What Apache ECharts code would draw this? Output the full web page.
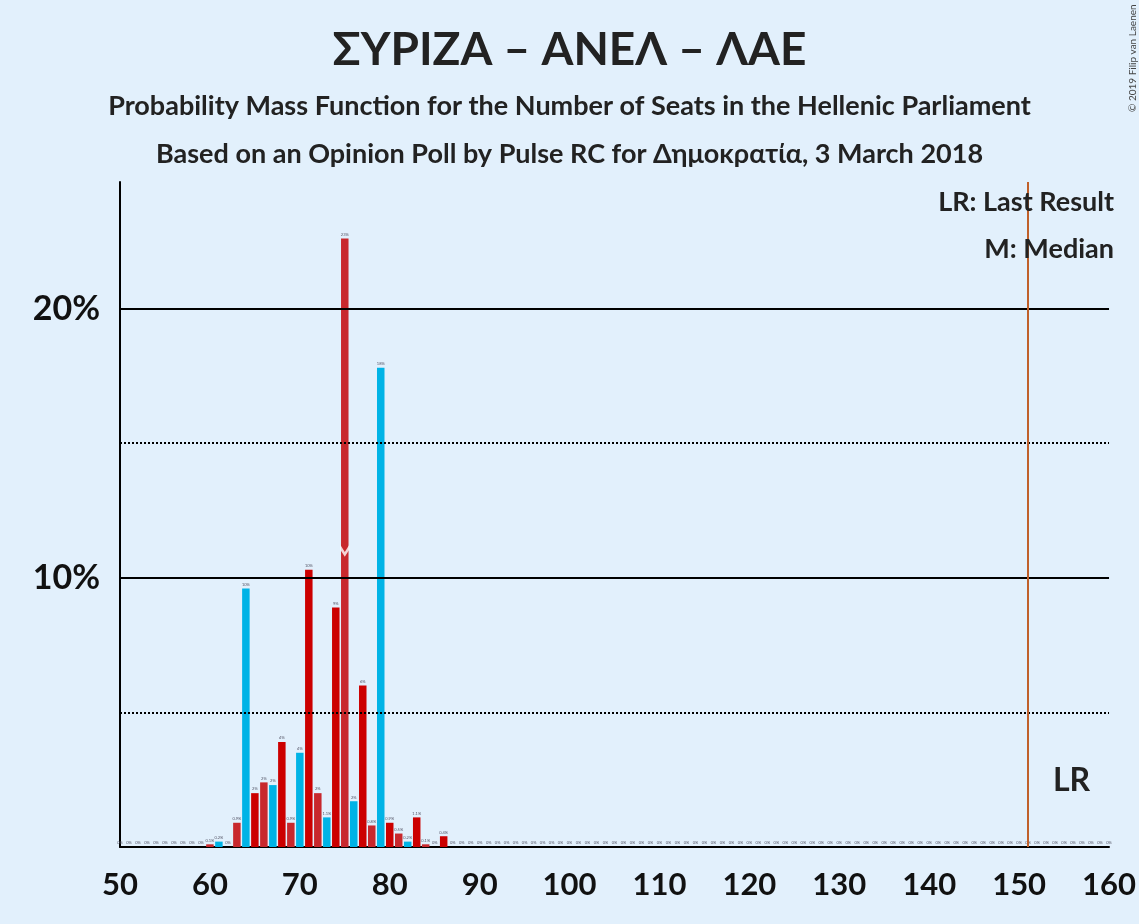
<!DOCTYPE html>
<html><head><meta charset="utf-8">
<script src="https://cdn.jsdelivr.net/npm/echarts@6/dist/echarts.min.js"></script>
<style>body{margin:0;background:#e2f0fc}#c{width:1139px;height:924px}</style>
</head><body><div id="c"></div>
<script>
// seats 50..160
const seats = [];
for (let s = 50; s <= 160; s++) seats.push(s);
// probability (%) for seats 60..86, all others 0
const probFrom = 60;
const probs = [0.1, 0.2, 0, 0.9, 9.6, 2.0, 2.4, 2.3, 3.9, 0.9, 3.5, 10.3, 2.0, 1.1, 8.9, 22.6, 1.7, 6.0, 0.8, 17.8, 0.9, 0.5, 0.2, 1.1, 0.1, 0, 0.4];
const labels = ['0.1%', '0.2%', '0%', '0.9%', '10%', '2%', '2%', '2%', '4%', '0.9%', '4%', '10%', '2%', '1.1%', '9%', '23%', '2%', '6%', '0.8%', '18%', '0.9%', '0.5%', '0.2%', '1.1%', '0.1%', '0%', '0.4%'];
const median = 75;
const lastResult = 151;
const colors = ['#c8282d', '#00b3e6', '#cc0000'];

const data = seats.map(s => {
  const i = s - probFrom;
  const v = (i >= 0 && i < probs.length) ? probs[i] : 0;
  const lab = (i >= 0 && i < probs.length) ? labels[i] : '0%';
  return { value: v, itemStyle: { color: colors[s % 3] }, label: { formatter: lab } };
});

const chart = echarts.init(document.getElementById('c'));
chart.setOption({
  backgroundColor: '#e2f0fc',
  textStyle: { fontFamily: 'Lato' },
  title: [
    { text: 'ΣΥΡΙΖΑ – ΑΝΕΛ – ΛΑΕ', left: 'center', top: 22, textStyle: { fontSize: 46, fontWeight: 'bold', color: '#222' } },
    { text: 'Probability Mass Function for the Number of Seats in the Hellenic Parliament', left: 'center', top: 88, textStyle: { fontSize: 27, fontWeight: 'bold', color: '#222' } },
    { text: 'Based on an Opinion Poll by Pulse RC for Δημοκρατία, 3 March 2018', left: 'center', top: 136, textStyle: { fontSize: 27, fontWeight: 'bold', color: '#222' } },
    { text: 'LR: Last Result', right: 20, top: 184, textStyle: { fontSize: 27, fontWeight: 'bold', color: '#222' } },
    { text: 'M: Median', right: 20, top: 231, textStyle: { fontSize: 27, fontWeight: 'bold', color: '#222' } },
    { text: 'LR', left: 1048, top: 760, textStyle: { fontSize: 32, fontWeight: 'bold', color: '#222' } }
  ],
  graphic: [{
    type: 'text', x: 1128, y: 112, rotation: Math.PI / 2,
    style: { text: '© 2019 Filip van Laenen', fontSize: 10, fill: '#444', fontFamily: 'Lato' }
  }],
  grid: { left: 120, right: 21, top: 182, bottom: 77 },
  xAxis: {
    type: 'category', data: seats, boundaryGap: false,
    axisLine: { lineStyle: { color: '#000', width: 2 } },
    axisTick: { show: false },
    axisLabel: { interval: (idx, v) => v % 10 === 0, fontSize: 31, fontWeight: 'bold', color: '#111', margin: 22, showMaxLabel: true }
  },
  yAxis: {
    type: 'value', min: 0, max: 24.7, interval: 5,
    axisLine: { show: true, lineStyle: { color: '#000', width: 2 } },
    axisLabel: { formatter: v => (v % 10 === 0 && v > 0) ? v + '%' : '', fontSize: 34, fontWeight: 'bold', color: '#111', margin: 20 },
    splitLine: { show: false }
  },
  series: [{
    type: 'bar', data: data, barWidth: 7.5,
    label: { show: true, position: 'top', fontSize: 4, color: '#556', distance: 2 },
    markLine: {
      symbol: 'none', silent: true, label: { show: false },
      data: [
        { yAxis: 5, lineStyle: { color: '#000', type: 'dotted', width: 2 } },
        { yAxis: 10, lineStyle: { color: '#000', type: 'solid', width: 2 } },
        { yAxis: 15, lineStyle: { color: '#000', type: 'dotted', width: 2 } },
        { yAxis: 20, lineStyle: { color: '#000', type: 'solid', width: 2 } },
        { xAxis: String(lastResult), lineStyle: { color: '#c0602a', type: 'solid', width: 2 } }
      ]
    }
  }, {
    type: 'scatter', data: [[String(median), 11]], symbol: 'path://M0,0 L5,6 L10,0 L10,4 L5,10 L0,4 Z',
    symbolSize: [9, 12], itemStyle: { color: '#fff' }, z: 5
  }]
});
</script></body></html>
